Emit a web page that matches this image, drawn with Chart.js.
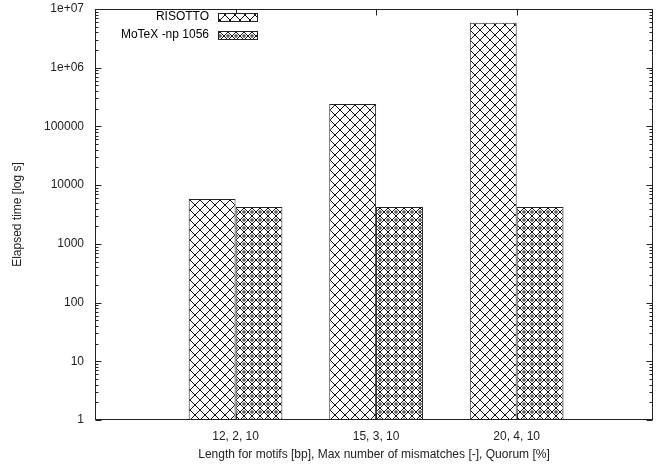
<!DOCTYPE html>
<html>
<head>
<meta charset="utf-8">
<script src="https://cdn.jsdelivr.net/npm/chart.js@4/dist/chart.umd.min.js"></script>
<style>
  html, body { margin: 0; padding: 0; background: #fff; }
  #wrap { width: 660px; height: 464px; }
</style>
</head>
<body>
<div id="wrap"><canvas id="chart"></canvas></div>
<script>
// data
const categories = ['12, 2, 10', '15, 3, 10', '20, 4, 10']
const seriesNames = ['RISOTTO', 'MoTeX -np 1056']
const risottoTimes = [5800, 240000, 5850000]
const motexTimes = [4250, 4250, 4250]
const yTickValues = [1, 10, 100, 1000, 10000, 100000, 1000000, 10000000]
const yTickLabels = ['1', '10', '100', '1000', '10000', '100000', '1e+06', '1e+07']

const FONT = { family: "'Liberation Sans', Arial, sans-serif", size: 12 }
const INK = '#222'

const canvas = document.getElementById('chart')
const ctx = canvas.getContext('2d')

// gnuplot-like fill patterns
function crossPattern(step) {
  const c = document.createElement('canvas')
  c.width = c.height = step
  const g = c.getContext('2d')
  g.fillStyle = '#fff'
  g.fillRect(0, 0, step, step)
  g.strokeStyle = '#111'
  g.lineWidth = 1
  g.beginPath()
  g.moveTo(0, 0); g.lineTo(step, step)
  g.moveTo(step, 0); g.lineTo(0, step)
  g.stroke()
  return ctx.createPattern(c, 'repeat')
}

function diamondDotPattern(step) {
  const c = document.createElement('canvas')
  c.width = c.height = step
  const g = c.getContext('2d')
  const h = step / 2
  g.fillStyle = '#fff'
  g.fillRect(0, 0, step, step)
  g.strokeStyle = '#111'
  g.lineWidth = 1
  g.beginPath()
  g.moveTo(0, h); g.lineTo(h, 0); g.lineTo(step, h); g.lineTo(h, step); g.closePath()
  g.stroke()
  g.beginPath()
  g.arc(h, h, 1.2, 0, Math.PI * 2)
  g.stroke()
  return ctx.createPattern(c, 'repeat')
}

const fills = [crossPattern(10), diamondDotPattern(8)]

// inward ticks, frame and the in-plot key, like gnuplot draws them
const frameAndKey = {
  id: 'frameAndKey',
  afterDraw(chart) {
    const { ctx: g, chartArea: a, scales: { x, y } } = chart
    g.save()
    g.strokeStyle = INK
    g.lineWidth = 1
    const L = Math.round(a.left) + 0.5, R = Math.round(a.right) - 0.5
    const T = Math.round(a.top) + 0.5, B = Math.round(a.bottom) - 0.5
    g.beginPath()
    yTickValues.forEach((v, k) => {
      const p = Math.round(y.getPixelForValue(v)) + 0.5
      g.moveTo(L, p); g.lineTo(L + 6, p)
      g.moveTo(R, p); g.lineTo(R - 6, p)
      if (k < yTickValues.length - 1) {
        for (let m = 2; m <= 9; m++) {
          const q = Math.round(y.getPixelForValue(v * m)) + 0.5
          g.moveTo(L, q); g.lineTo(L + 3, q)
          g.moveTo(R, q); g.lineTo(R - 3, q)
        }
      }
    })
    categories.forEach((_, i) => {
      const p = Math.round(x.getPixelForValue(i)) + 0.5
      g.moveTo(p, B); g.lineTo(p, B - 6)
      g.moveTo(p, T); g.lineTo(p, T + 6)
    })
    g.stroke()
    g.strokeRect(L, T, R - L, B - T)

    // key
    g.font = `${FONT.size}px ${FONT.family}`
    g.fillStyle = '#000'
    g.textAlign = 'right'
    g.textBaseline = 'middle'
    seriesNames.forEach((name, i) => {
      const cy = 17 + i * 18
      g.fillText(name, 209, cy)
      g.fillStyle = fills[i]
      g.fillRect(218, cy - 4, 40, 9)
      g.strokeRect(218.5, cy - 3.5, 39, 8)
      g.fillStyle = '#000'
    })
    g.restore()
  }
}

new Chart(canvas, {
  type: 'bar',
  data: {
    datasets: [
      {
        label: seriesNames[0],
        data: risottoTimes.map((v, i) => ({ x: i, y: v })),
        backgroundColor: fills[0],
        borderColor: INK,
        borderWidth: 1
      },
      {
        label: seriesNames[1],
        data: motexTimes.map((v, i) => ({ x: i, y: v })),
        backgroundColor: fills[1],
        borderColor: INK,
        borderWidth: 1
      }
    ]
  },
  options: {
    responsive: true,
    maintainAspectRatio: false,
    animation: false,
    categoryPercentage: 2 / 3,
    barPercentage: 1,
    layout: { padding: { top: 9, right: 7, left: 0, bottom: 0 } },
    plugins: {
      legend: { display: false },
      tooltip: { enabled: false }
    },
    scales: {
      x: {
        type: 'linear',
        min: -1,
        max: 2.97,
        offset: false,
        grid: { display: false, drawTicks: false },
        border: { display: false },
        afterBuildTicks: s => { s.ticks = categories.map((_, i) => ({ value: i })) },
        afterFit: s => {
          s.height = 44
          s.paddingLeft = 0
          s.paddingRight = 0
        },
        ticks: {
          autoSkip: false,
          maxRotation: 0,
          padding: 9,
          color: INK,
          font: FONT,
          callback: v => categories[v] ?? ''
        },
        title: {
          display: true,
          text: 'Length for motifs [bp], Max number of mismatches [-], Quorum [%]',
          color: INK,
          font: FONT,
          padding: { top: 0, bottom: 2 }
        }
      },
      y: {
        type: 'logarithmic',
        min: 1,
        max: 10000000,
        grid: { display: false, drawTicks: false },
        border: { display: false },
        afterBuildTicks: s => { s.ticks = yTickValues.map(v => ({ value: v })) },
        afterFit: s => {
          s.width = 95
          s.paddingTop = 0
          s.paddingBottom = 0
        },
        ticks: {
          autoSkip: false,
          padding: 11,
          color: INK,
          font: FONT,
          callback: (v, i) => yTickLabels[i]
        },
        title: {
          display: true,
          text: 'Elapsed time [log s]',
          color: INK,
          font: FONT,
          padding: { top: 10, bottom: 0 }
        }
      }
    }
  },
  plugins: [frameAndKey]
})
</script>
</body>
</html>
